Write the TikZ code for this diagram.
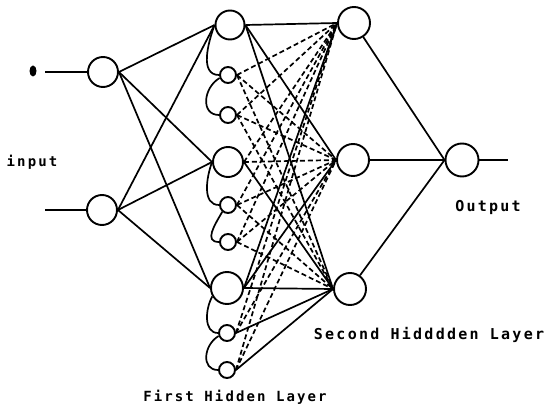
\documentclass[tikz,border=0pt]{standalone}
\usepackage{fontspec}
\newfontfamily\lblfont[LetterSpace=15]{DejaVu Sans Mono}
\begin{document}
\begin{tikzpicture}[x=1pt,y=-1pt,line width=1.7pt,
  neuron/.style={circle,draw,line width=1.9pt,inner sep=0pt,minimum size=#1},
  dsh/.style={dash pattern=on 5pt off 3pt},
  lbl/.style={font=\lblfont\bfseries\fontsize{14}{14}\selectfont,inner sep=0pt},
  lblbig/.style={font=\lblfont\bfseries\fontsize{15}{15}\selectfont,inner sep=0pt}]
\useasboundingbox (0,0) rectangle (546,414);
% input layer
\node[neuron=30pt] (i1) at (103,72) {};
\node[neuron=30pt] (i2) at (102,210) {};
\coordinate (in1) at (45,72);
\coordinate (in2) at (45,210);
\fill (33,71) ellipse (3.5pt and 5.5pt);
% first hidden layer
\node[neuron=29pt] (A) at (230,25) {};
\node[neuron=16pt] (a1) at (228,75) {};
\node[neuron=16pt] (a2) at (228,115) {};
\node[neuron=30pt] (B) at (228,162) {};
\node[neuron=16pt] (b1) at (228,205) {};
\node[neuron=16pt] (b2) at (228,242) {};
\node[neuron=32pt] (C) at (227,288) {};
\node[neuron=16pt] (c1) at (227,333) {};
\node[neuron=16pt] (c2) at (227,370) {};
% second hidden layer
\node[neuron=32pt] (T) at (354,23) {};
\node[neuron=32pt] (M) at (353,160) {};
\node[neuron=32pt] (Bo) at (350,289) {};
% output
\node[neuron=33pt] (O) at (462,160) {};
\coordinate (oe) at (508,160);
% input lines
\draw (in1) -- (i1.west);
\draw (in2) -- (i2.west);
\foreach \s in {i1,i2} \foreach \t in {A,B,C} \draw (\s.east) -- (\t.west);
% group curves
\draw (A.west) to[out=250,in=180] (a1.west);
\draw (a1.200) to[out=210,in=180,looseness=1.3] (a2.west);
\draw (B.west) to[out=250,in=180] (b1.west);
\draw (b1.230) to[out=240,in=180,looseness=1.3] (b2.west);
\draw (C.210) to[out=240,in=180] (c1.west);
\draw (c1.200) to[out=210,in=180,looseness=1.3] (c2.west);
% first -> second hidden mesh
\foreach \s in {A,C} \foreach \t in {T,M,Bo} \draw (\s.east) -- (\t.west);
\draw[dsh] (B.east) -- (T.west);
\draw[dsh] (B.east) -- (M.west);
\draw (B.east) -- (Bo.west);
\foreach \s in {a1,a2,b1,b2} \foreach \t in {T,M,Bo} \draw[dsh] (\s.east) -- (\t.west);
\foreach \s in {c1,c2} {
  \draw[dsh] (\s.east) -- (T.west);
  \draw[dsh] (\s.east) -- (M.west);
  \draw (\s.east) -- (Bo.west);
}
% second -> output
\draw (T) -- (O.west);
\draw (M) -- (O);
\draw (Bo) -- (O.west);
\draw (O.east) -- (oe);
% labels
\node[lbl] (lin) at (32,162) {input};
\node[lblbig] (lout) at (488,207) {Output};
\node[lblbig] (l2) at (429,335) {Second Hidddden Layer};
\node[lbl] (l1) at (235,397) {First Hidden Layer};
\end{tikzpicture}
\end{document}
